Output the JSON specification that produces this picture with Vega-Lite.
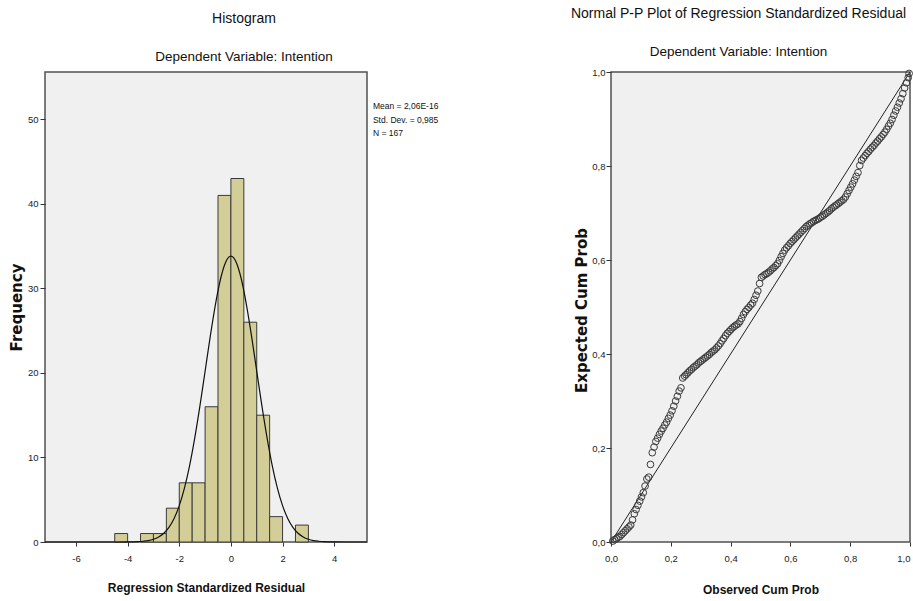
{
  "$schema": "https://vega.github.io/schema/vega-lite/v6.json",
  "padding": {"left": 8, "top": 5, "right": 0, "bottom": 0},
  "background": "white",
  "bounds": "flush",
  "spacing": 244,
  "config": {
    "font": "Liberation Sans, Arial, sans-serif",
    "view": {"stroke": "#505050", "strokeWidth": 1.5, "fill": "#f0f0f0"},
    "title": {"font": "Liberation Sans, Arial, sans-serif", "fontSize": 14, "fontWeight": "normal", "color": "#111", "subtitleFont": "Liberation Sans, Arial, sans-serif", "subtitleFontSize": 13.5, "subtitleColor": "#111", "subtitlePadding": 24},
    "axis": {"domain": false, "grid": false, "tickColor": "#333", "tickWidth": 1, "labelColor": "#222", "labelFont": "Liberation Sans, Arial, sans-serif", "labelFontSize": 9.5, "titleColor": "#111"}
  },
  "datasets": {
    "bins": [
      {"start": -4.5, "end": -4.0, "n": 1},
      {"start": -3.5, "end": -3.0, "n": 1},
      {"start": -3.0, "end": -2.5, "n": 1},
      {"start": -2.5, "end": -2.0, "n": 4},
      {"start": -2.0, "end": -1.5, "n": 7},
      {"start": -1.5, "end": -1.0, "n": 7},
      {"start": -1.0, "end": -0.5, "n": 16},
      {"start": -0.5, "end": 0.0, "n": 41},
      {"start": 0.0, "end": 0.5, "n": 43},
      {"start": 0.5, "end": 1.0, "n": 26},
      {"start": 1.0, "end": 1.5, "n": 15},
      {"start": 1.5, "end": 2.0, "n": 3},
      {"start": 2.5, "end": 3.0, "n": 2}
    ],
    "curve": [
      {"z": -7.2, "f": 0}, {"z": -5.0, "f": 0}, {"z": -4.4, "f": 0.002}, {"z": -4.0, "f": 0.01},
      {"z": -3.6, "f": 0.04}, {"z": -3.4, "f": 0.09}, {"z": -3.2, "f": 0.17}, {"z": -3.0, "f": 0.33},
      {"z": -2.8, "f": 0.60}, {"z": -2.6, "f": 1.04}, {"z": -2.4, "f": 1.74}, {"z": -2.2, "f": 2.79},
      {"z": -2.0, "f": 4.30}, {"z": -1.8, "f": 6.37}, {"z": -1.6, "f": 9.04}, {"z": -1.4, "f": 12.32},
      {"z": -1.2, "f": 16.10}, {"z": -1.0, "f": 20.20}, {"z": -0.8, "f": 24.32}, {"z": -0.6, "f": 28.09},
      {"z": -0.4, "f": 31.14}, {"z": -0.2, "f": 33.13}, {"z": 0.0, "f": 33.82}, {"z": 0.2, "f": 33.13},
      {"z": 0.4, "f": 31.14}, {"z": 0.6, "f": 28.09}, {"z": 0.8, "f": 24.32}, {"z": 1.0, "f": 20.20},
      {"z": 1.2, "f": 16.10}, {"z": 1.4, "f": 12.32}, {"z": 1.6, "f": 9.04}, {"z": 1.8, "f": 6.37},
      {"z": 2.0, "f": 4.30}, {"z": 2.2, "f": 2.79}, {"z": 2.4, "f": 1.74}, {"z": 2.6, "f": 1.04},
      {"z": 2.8, "f": 0.60}, {"z": 3.0, "f": 0.33}, {"z": 3.2, "f": 0.17}, {"z": 3.4, "f": 0.09},
      {"z": 3.6, "f": 0.04}, {"z": 4.0, "f": 0.01}, {"z": 4.4, "f": 0.002}, {"z": 5.27, "f": 0}
    ],
    "pp": [
      {"o": 0.006, "e": 0.002}, {"o": 0.012, "e": 0.005}, {"o": 0.018, "e": 0.007}, {"o": 0.024, "e": 0.010},
      {"o": 0.030, "e": 0.012}, {"o": 0.036, "e": 0.016}, {"o": 0.042, "e": 0.020}, {"o": 0.048, "e": 0.024},
      {"o": 0.054, "e": 0.028}, {"o": 0.060, "e": 0.032}, {"o": 0.066, "e": 0.036}, {"o": 0.072, "e": 0.047},
      {"o": 0.078, "e": 0.060}, {"o": 0.084, "e": 0.069}, {"o": 0.090, "e": 0.078}, {"o": 0.096, "e": 0.087},
      {"o": 0.102, "e": 0.096}, {"o": 0.108, "e": 0.105}, {"o": 0.114, "e": 0.119}, {"o": 0.120, "e": 0.134},
      {"o": 0.126, "e": 0.138}, {"o": 0.132, "e": 0.165}, {"o": 0.138, "e": 0.190}, {"o": 0.144, "e": 0.202},
      {"o": 0.150, "e": 0.214}, {"o": 0.156, "e": 0.221}, {"o": 0.162, "e": 0.229}, {"o": 0.168, "e": 0.236},
      {"o": 0.174, "e": 0.242}, {"o": 0.180, "e": 0.249}, {"o": 0.186, "e": 0.255}, {"o": 0.192, "e": 0.263},
      {"o": 0.198, "e": 0.270}, {"o": 0.204, "e": 0.279}, {"o": 0.210, "e": 0.289}, {"o": 0.216, "e": 0.300},
      {"o": 0.222, "e": 0.310}, {"o": 0.228, "e": 0.321}, {"o": 0.234, "e": 0.328}, {"o": 0.240, "e": 0.349},
      {"o": 0.246, "e": 0.353}, {"o": 0.251, "e": 0.356}, {"o": 0.257, "e": 0.360}, {"o": 0.263, "e": 0.364},
      {"o": 0.269, "e": 0.367}, {"o": 0.275, "e": 0.371}, {"o": 0.281, "e": 0.374}, {"o": 0.287, "e": 0.377},
      {"o": 0.293, "e": 0.381}, {"o": 0.299, "e": 0.384}, {"o": 0.305, "e": 0.387}, {"o": 0.311, "e": 0.390},
      {"o": 0.317, "e": 0.393}, {"o": 0.323, "e": 0.396}, {"o": 0.329, "e": 0.399}, {"o": 0.335, "e": 0.403},
      {"o": 0.341, "e": 0.406}, {"o": 0.347, "e": 0.409}, {"o": 0.353, "e": 0.413}, {"o": 0.359, "e": 0.417},
      {"o": 0.365, "e": 0.422}, {"o": 0.371, "e": 0.428}, {"o": 0.377, "e": 0.433}, {"o": 0.383, "e": 0.439},
      {"o": 0.389, "e": 0.444}, {"o": 0.395, "e": 0.448}, {"o": 0.401, "e": 0.452}, {"o": 0.407, "e": 0.456},
      {"o": 0.413, "e": 0.459}, {"o": 0.419, "e": 0.462}, {"o": 0.425, "e": 0.464}, {"o": 0.431, "e": 0.469},
      {"o": 0.437, "e": 0.476}, {"o": 0.443, "e": 0.484}, {"o": 0.449, "e": 0.490}, {"o": 0.455, "e": 0.495},
      {"o": 0.461, "e": 0.499}, {"o": 0.467, "e": 0.504}, {"o": 0.473, "e": 0.508}, {"o": 0.479, "e": 0.516},
      {"o": 0.485, "e": 0.525}, {"o": 0.491, "e": 0.534}, {"o": 0.497, "e": 0.550}, {"o": 0.503, "e": 0.563},
      {"o": 0.509, "e": 0.566}, {"o": 0.515, "e": 0.569}, {"o": 0.521, "e": 0.571}, {"o": 0.527, "e": 0.574},
      {"o": 0.533, "e": 0.577}, {"o": 0.539, "e": 0.581}, {"o": 0.545, "e": 0.584}, {"o": 0.551, "e": 0.588},
      {"o": 0.557, "e": 0.592}, {"o": 0.563, "e": 0.599}, {"o": 0.569, "e": 0.607}, {"o": 0.575, "e": 0.614},
      {"o": 0.581, "e": 0.621}, {"o": 0.587, "e": 0.626}, {"o": 0.593, "e": 0.630}, {"o": 0.599, "e": 0.635},
      {"o": 0.605, "e": 0.639}, {"o": 0.611, "e": 0.643}, {"o": 0.617, "e": 0.647}, {"o": 0.623, "e": 0.651},
      {"o": 0.629, "e": 0.655}, {"o": 0.635, "e": 0.659}, {"o": 0.641, "e": 0.663}, {"o": 0.647, "e": 0.667},
      {"o": 0.653, "e": 0.671}, {"o": 0.659, "e": 0.674}, {"o": 0.665, "e": 0.677}, {"o": 0.671, "e": 0.679},
      {"o": 0.677, "e": 0.682}, {"o": 0.683, "e": 0.684}, {"o": 0.689, "e": 0.686}, {"o": 0.695, "e": 0.688},
      {"o": 0.701, "e": 0.691}, {"o": 0.707, "e": 0.693}, {"o": 0.713, "e": 0.696}, {"o": 0.719, "e": 0.699},
      {"o": 0.725, "e": 0.702}, {"o": 0.731, "e": 0.705}, {"o": 0.737, "e": 0.709}, {"o": 0.743, "e": 0.712},
      {"o": 0.749, "e": 0.715}, {"o": 0.754, "e": 0.717}, {"o": 0.760, "e": 0.720}, {"o": 0.766, "e": 0.723},
      {"o": 0.772, "e": 0.726}, {"o": 0.778, "e": 0.729}, {"o": 0.784, "e": 0.734}, {"o": 0.790, "e": 0.741},
      {"o": 0.796, "e": 0.748}, {"o": 0.802, "e": 0.755}, {"o": 0.808, "e": 0.762}, {"o": 0.814, "e": 0.770},
      {"o": 0.820, "e": 0.778}, {"o": 0.826, "e": 0.786}, {"o": 0.832, "e": 0.801}, {"o": 0.838, "e": 0.812},
      {"o": 0.844, "e": 0.817}, {"o": 0.850, "e": 0.822}, {"o": 0.856, "e": 0.827}, {"o": 0.862, "e": 0.831},
      {"o": 0.868, "e": 0.836}, {"o": 0.874, "e": 0.840}, {"o": 0.880, "e": 0.844}, {"o": 0.886, "e": 0.849},
      {"o": 0.892, "e": 0.853}, {"o": 0.898, "e": 0.858}, {"o": 0.904, "e": 0.862}, {"o": 0.910, "e": 0.867},
      {"o": 0.916, "e": 0.872}, {"o": 0.922, "e": 0.878}, {"o": 0.928, "e": 0.885}, {"o": 0.934, "e": 0.891},
      {"o": 0.940, "e": 0.899}, {"o": 0.946, "e": 0.908}, {"o": 0.952, "e": 0.917}, {"o": 0.958, "e": 0.925},
      {"o": 0.964, "e": 0.934}, {"o": 0.970, "e": 0.943}, {"o": 0.976, "e": 0.954}, {"o": 0.982, "e": 0.966},
      {"o": 0.988, "e": 0.977}, {"o": 0.994, "e": 0.988}, {"o": 0.997, "e": 0.997}
    ]
  },
  "hconcat": [
    {
      "width": 322,
      "height": 470,
      "title": {"text": "Histogram", "subtitle": "Dependent Variable: Intention", "anchor": "middle", "frame": "group", "dx": 38, "offset": 9},
      "layer": [
        {
          "data": {"name": "bins"},
          "mark": {"type": "bar", "fill": "#d3ce97", "stroke": "#3a3a3a", "strokeWidth": 1},
          "encoding": {
            "x": {"field": "start", "type": "quantitative",
              "scale": {"domain": [-7.2, 5.27], "nice": false, "zero": false},
              "axis": {"values": [-6, -4, -2, 0, 2, 4], "labelExpr": "'' + datum.value", "labelFlush": false,
                "title": "Regression Standardized Residual", "titleFont": "Liberation Sans, Arial, sans-serif",
                "titleFontSize": 12, "titleFontWeight": "bold", "titleBaseline": "alphabetic", "titleY": 49,
                "tickSize": 4, "labelPadding": 7}},
            "x2": {"field": "end"},
            "y": {"field": "n", "type": "quantitative",
              "scale": {"domain": [0, 55.6], "nice": false},
              "axis": {"values": [0, 10, 20, 30, 40, 50], "title": "Frequency", "titleFont": "DejaVu Sans",
                "titleFontSize": 15, "titleFontWeight": "bold", "titleBaseline": "middle", "titleAngle": 270,
                "titleX": -29, "titleY": 235, "tickSize": 5, "labelPadding": 2}},
            "y2": {"datum": 0}
          }
        },
        {
          "data": {"name": "curve"},
          "mark": {"type": "line", "color": "#111", "strokeWidth": 1.2, "interpolate": "monotone"},
          "encoding": {
            "x": {"field": "z", "type": "quantitative"},
            "y": {"field": "f", "type": "quantitative"}
          }
        },
        {
          "data": {"values": [{}]},
          "mark": {"type": "text", "align": "left", "baseline": "top", "fontSize": 8.5, "lineHeight": 13.3, "color": "#111"},
          "encoding": {
            "x": {"datum": 5.5},
            "y": {"datum": 52.0},
            "text": {"value": ["Mean = 2,06E-16", "Std. Dev. = 0,985", "N = 167"]}
          }
        }
      ]
    },
    {
      "width": 299,
      "height": 470,
      "title": {"text": "Normal P-P Plot of Regression Standardized Residual", "subtitle": "Dependent Variable: Intention", "anchor": "middle", "frame": "group", "dx": -22, "offset": 9},
      "layer": [
        {
          "data": {"values": [{}]},
          "mark": {"type": "rule", "color": "#222", "strokeWidth": 1},
          "encoding": {
            "x": {"datum": 0, "type": "quantitative",
              "scale": {"domain": [0, 1], "nice": false},
              "axis": {"values": [0, 0.2, 0.4, 0.6, 0.8, 1], "labelExpr": "replace(format(datum.value, '.1f'), '.', ',')",
                "labelFlush": false,
                "labelAlign": {"condition": {"test": "datum.value >= 1", "value": "right"}, "value": "center"},
                "title": "Observed Cum Prob", "titleFont": "Liberation Sans, Arial, sans-serif",
                "titleFontSize": 12, "titleFontWeight": "bold", "titleBaseline": "alphabetic", "titleY": 51,
                "tickSize": 4, "labelPadding": 7}},
            "y": {"datum": 0, "type": "quantitative",
              "scale": {"domain": [0, 1], "nice": false},
              "axis": {"values": [0, 0.2, 0.4, 0.6, 0.8, 1], "labelExpr": "replace(format(datum.value, '.1f'), '.', ',')",
                "title": "Expected Cum Prob", "titleFont": "DejaVu Sans",
                "titleFontSize": 15, "titleFontWeight": "bold", "titleBaseline": "middle", "titleAngle": 270,
                "titleX": -30, "titleY": 238, "tickSize": 5, "labelPadding": 1}},
            "x2": {"datum": 1},
            "y2": {"datum": 1}
          }
        },
        {
          "data": {"name": "pp"},
          "mark": {"type": "point", "filled": false, "stroke": "#3a3a3a", "strokeWidth": 1, "size": 45, "opacity": 1},
          "encoding": {
            "x": {"field": "o", "type": "quantitative"},
            "y": {"field": "e", "type": "quantitative"}
          }
        }
      ]
    }
  ]
}
